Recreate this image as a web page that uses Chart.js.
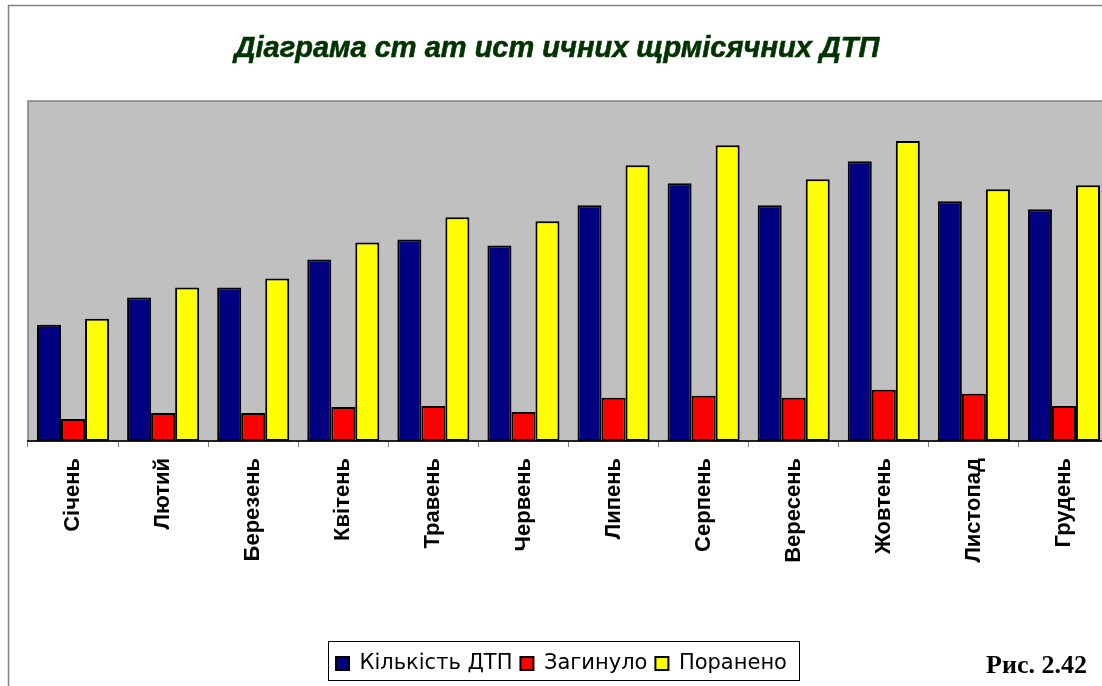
<!DOCTYPE html>
<html>
<head>
<meta charset="utf-8">
<script src="https://cdn.jsdelivr.net/npm/chart.js@4"></script>
<style>
  html, body { margin: 0; padding: 0; background: #fff; overflow: hidden; }
  #wrap { position: absolute; left: 0; top: 0; width: 1130px; height: 686px; }
</style>
</head>
<body>
<div id="wrap"><canvas id="dtpChart"></canvas></div>
<script>
const months = ['Січень', 'Лютий', 'Березень', 'Квітень', 'Травень', 'Червень',
                'Липень', 'Серпень', 'Вересень', 'Жовтень', 'Листопад', 'Грудень'];
const accidents = [116, 143, 153, 181, 201, 195, 235, 257, 235, 279, 239, 231];
const killed    = [22, 28, 28, 34, 35, 29, 43, 45, 43, 51, 47, 35];
const injured   = [122, 153, 162, 198, 223, 219, 275, 295, 261, 299, 251, 255];
const titleText = 'Діаграма ст ат ист ичних щрмісячних ДТП';
const figText = 'Рис. 2.42';

// grey plot area, outer frame, title, legend frame
const decor = {
    id: 'decor',
    beforeDraw(chart) {
        const { ctx, chartArea: a } = chart;
        ctx.save();
        ctx.fillStyle = '#c0c0c0';
        ctx.fillRect(a.left, a.top, a.right - a.left, a.bottom - a.top);
        ctx.strokeStyle = '#808080';
        ctx.lineWidth = 1.5;
        ctx.beginPath();
        ctx.moveTo(a.left, a.bottom);
        ctx.lineTo(a.left, a.top);
        ctx.lineTo(a.right, a.top);
        ctx.stroke();
        // outer frame
        ctx.beginPath();
        ctx.moveTo(8.5, 686);
        ctx.lineTo(8.5, 5.5);
        ctx.lineTo(1130, 5.5);
        ctx.stroke();
        ctx.restore();
    },
    afterDraw(chart) {
        const { ctx } = chart;
        ctx.save();
        ctx.fillStyle = '#003300';
        ctx.strokeStyle = '#003300';
        ctx.lineWidth = 0.6;
        ctx.font = 'italic bold 29px "Liberation Sans"';
        ctx.textAlign = 'center';
        ctx.textBaseline = 'alphabetic';
        ctx.fillText(titleText, 557, 57);
        ctx.strokeText(titleText, 557, 57);

        ctx.fillStyle = '#000';
        ctx.font = 'bold 26px "Liberation Serif"';
        ctx.textAlign = 'right';
        ctx.fillText(figText, 1087, 673);

        // box round the legend
        const boxes = chart.legend.legendHitBoxes;
        if (boxes && boxes.length) {
            const first = boxes[0], last = boxes[boxes.length - 1];
            const x0 = first.left - 8, x1 = last.left + last.width + 12;
            const y0 = first.top - 12, y1 = first.top + first.height + 6;
            ctx.strokeStyle = '#000';
            ctx.lineWidth = 1;
            ctx.strokeRect(Math.round(x0) + 0.5, Math.round(y0) + 0.5, Math.round(x1 - x0), Math.round(y1 - y0));
        }
        ctx.restore();
    }
};

new Chart(document.getElementById('dtpChart'), {
    type: 'bar',
    data: {
        labels: months,
        datasets: [
            { label: 'Кількість ДТП', data: accidents, backgroundColor: '#000080' },
            { label: 'Загинуло', data: killed, backgroundColor: '#ff0000' },
            { label: 'Поранено', data: injured, backgroundColor: '#ffff00' }
        ]
    },
    options: {
        responsive: true,
        maintainAspectRatio: false,
        animation: false,
        layout: { padding: { top: 101, left: 14, right: 21, bottom: 2 } },
        datasets: {
            bar: {
                categoryPercentage: 0.8,
                barPercentage: 1.0,
                borderColor: '#000',
                borderWidth: 2,
                borderSkipped: false
            }
        },
        scales: {
            x: {
                offset: true,
                grid: { display: true, offset: true, drawOnChartArea: false, tickLength: 6, color: '#808080' },
                border: { display: true, color: '#222', width: 2 },
                ticks: {
                    autoSkip: false,
                    maxRotation: 90,
                    minRotation: 90,
                    padding: 11,
                    color: '#000',
                    font: { family: '"Liberation Sans"', size: 22, weight: 'bold' }
                },
                afterFit: (scale) => { scale.height = 204; }
            },
            y: {
                display: true,
                min: 0,
                max: 339,
                grid: { display: false },
                border: { display: false },
                ticks: { display: false },
                afterFit: (scale) => { scale.width = 14; }
            }
        },
        plugins: {
            legend: {
                position: 'bottom',
                labels: {
                    boxWidth: 13,
                    boxHeight: 13,
                    padding: 8,
                    color: '#000',
                    font: { family: '"DejaVu Sans"', size: 21 }
                }
            },
            tooltip: { enabled: false }
        }
    },
    plugins: [decor]
});
</script>
</body>
</html>
